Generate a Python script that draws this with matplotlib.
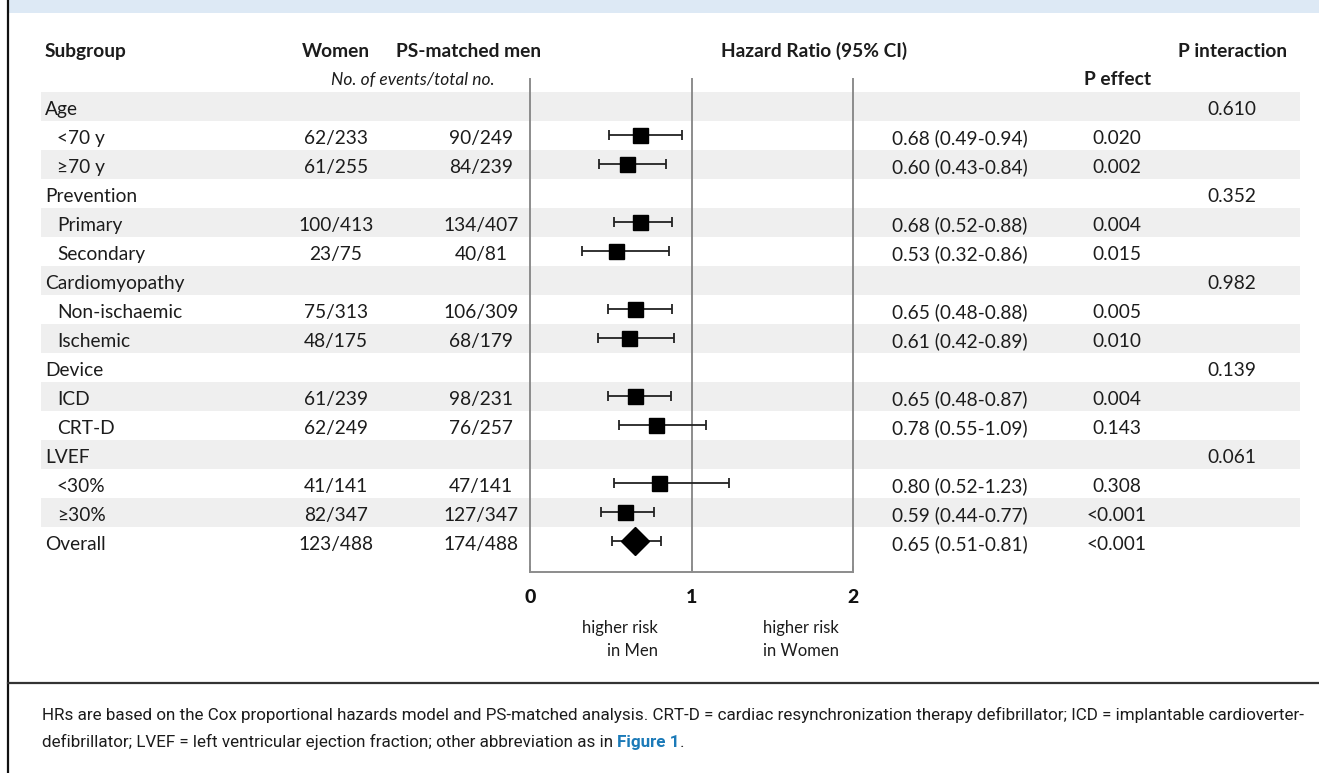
import numpy as np
import matplotlib
matplotlib.use("Agg")
import matplotlib.pyplot as plt
from matplotlib.patches import Rectangle

# canvas size in pixels (dpi 100)
W, H = 1319, 773

# table content
labels = ["Age", "<70 y", "≥70 y", "Prevention", "Primary", "Secondary",
          "Cardiomyopathy", "Non-ischaemic", "Ischemic", "Device", "ICD", "CRT-D",
          "LVEF", "<30%", "≥30%", "Overall"]
indented = [0, 1, 1, 0, 1, 1, 0, 1, 1, 0, 1, 1, 0, 1, 1, 0]
women = ["", "62/233", "61/255", "", "100/413", "23/75", "", "75/313", "48/175",
         "", "61/239", "62/249", "", "41/141", "82/347", "123/488"]
men = ["", "90/249", "84/239", "", "134/407", "40/81", "", "106/309", "68/179",
       "", "98/231", "76/257", "", "47/141", "127/347", "174/488"]
hr = [np.nan, 0.68, 0.60, np.nan, 0.68, 0.53, np.nan, 0.65, 0.61,
      np.nan, 0.65, 0.78, np.nan, 0.80, 0.59, 0.65]
ci_lo = [np.nan, 0.49, 0.43, np.nan, 0.52, 0.32, np.nan, 0.48, 0.42,
         np.nan, 0.48, 0.55, np.nan, 0.52, 0.44, 0.51]
ci_hi = [np.nan, 0.94, 0.84, np.nan, 0.88, 0.86, np.nan, 0.88, 0.89,
         np.nan, 0.87, 1.09, np.nan, 1.23, 0.77, 0.81]
p_effect = ["", "0.020", "0.002", "", "0.004", "0.015", "", "0.005", "0.010",
            "", "0.004", "0.143", "", "0.308", "<0.001", "<0.001"]
p_interaction = ["0.610", "", "", "0.352", "", "", "0.982", "", "",
                 "0.139", "", "", "0.061", "", "", ""]

hr = np.array(hr)
ci_lo = np.array(ci_lo)
ci_hi = np.array(ci_hi)
n_rows = len(labels)
rows = np.arange(n_rows)

TXT = "#1c1c1c"
GRID = "#8c8c8c"
BAND = "#efefef"
FONT = "Lato"
FS = 13.8

fig = plt.figure(figsize=(W / 100, H / 100), dpi=100)
ax = fig.add_axes([0, 0, 1, 1])
ax.set_xlim(0, W)
ax.set_ylim(H, 0)
ax.axis("off")

# frame: blue title band, left rule, rule above the footnote
ax.add_patch(Rectangle((9, 0), W - 9, 13, color="#dde9f5", lw=0))
ax.plot([8, 8], [0, H], color="#111111", lw=1.6)
ax.plot([8, W], [683, 683], color="#333333", lw=1.6)

# row geometry
row0, row_h = 106.5, 29.0
row_y = row0 + row_h * rows
base = row_y + 8.5

# shaded bands on every other row
ax.barh(row_y[::2], 1300 - 41, left=41, height=row_h, color=BAND, lw=0)

# headers
hkw = dict(fontsize=FS, family=FONT, fontweight="bold", color=TXT, va="baseline")
ax.text(45, 57, "Subgroup", ha="left", **hkw)
ax.text(336, 57, "Women", ha="center", **hkw)
ax.text(469, 57, "PS-matched men", ha="center", **hkw)
ax.text(814, 57, "Hazard Ratio (95% CI)", ha="center", **hkw)
ax.text(1233, 57, "P interaction", ha="center", **hkw)
ax.text(1118, 85, "P effect", ha="center", **hkw)
ax.text(413, 85, "No. of events/total no.", ha="center", fontsize=FS - 1.3,
        family=FONT, style="italic", color=TXT, va="baseline")

# body text
tkw = dict(fontsize=FS, family=FONT, color=TXT, va="baseline")
for i in rows:
    ax.text(57 if indented[i] else 45, base[i], labels[i], ha="left", **tkw)
    ax.text(336, base[i], women[i], ha="center", **tkw)
    ax.text(481, base[i], men[i], ha="center", **tkw)
    if not np.isnan(hr[i]):
        ax.text(892, base[i], f"{hr[i]:.2f} ({ci_lo[i]:.2f}-{ci_hi[i]:.2f})",
                ha="left", **tkw)
    ax.text(1117, base[i], p_effect[i], ha="center", **tkw)
    ax.text(1232, base[i], p_interaction[i], ha="center", **tkw)

# forest panel: HR 0 at x=530 px, 2 at x=853 px, from y=79 px down to the axis at 572 px
top_px, bot_px = 79, 572
fa = fig.add_axes([530 / W, 1 - bot_px / H, (853 - 530) / W, (bot_px - top_px) / H])
fa.patch.set_alpha(0)
fa.set_xlim(0, 2)
fa.set_ylim((bot_px - row0) / row_h, (top_px - row0) / row_h)
for v in (0, 1, 2):
    fa.axvline(v, color=GRID, lw=1.4, clip_on=False, zorder=1)

sub = ~np.isnan(hr)
sub[-1] = False
fa.errorbar(hr[sub], rows[sub], xerr=[hr[sub] - ci_lo[sub], ci_hi[sub] - hr[sub]],
            fmt="s", ms=10.8, color="black", ecolor="#222222", elinewidth=1.3,
            capsize=3.6, capthick=1.3, zorder=3)
fa.errorbar(hr[-1:], rows[-1:], xerr=[hr[-1:] - ci_lo[-1:], ci_hi[-1:] - hr[-1:]],
            fmt="D", ms=14, color="black", ecolor="#222222", elinewidth=1.3,
            capsize=3.6, capthick=1.3, zorder=3)

for s in ("top", "left", "right"):
    fa.spines[s].set_visible(False)
fa.spines["bottom"].set_color(GRID)
fa.spines["bottom"].set_linewidth(1.4)
fa.set_yticks([])
fa.set_xticks([0, 1, 2])
fa.set_xticklabels(["0", "1", "2"], fontsize=14, family=FONT, fontweight="black", color="#111111")
fa.tick_params(axis="x", direction="in", length=4, width=1.4, color=GRID, pad=12)

# direction labels
lkw = dict(fontsize=12, family=FONT, color=TXT, va="baseline")
ax.text(658, 633, "higher risk", ha="right", **lkw)
ax.text(658, 656, "in Men", ha="right", **lkw)
ax.text(763, 633, "higher risk", ha="left", **lkw)
ax.text(763, 656, "in Women", ha="left", **lkw)

# footnote
FFS = 12.25
fkw = dict(fontsize=FFS, family="Roboto", color=TXT, va="baseline")
ax.text(42, 720, "HRs are based on the Cox proportional hazards model and PS-matched analysis. "
        "CRT-D = cardiac resynchronization therapy defibrillator; ICD = implantable cardioverter-",
        ha="left", **fkw)
renderer = fig.canvas.get_renderer()
t1 = ax.text(42, 747, "defibrillator; LVEF = left ventricular ejection fraction; "
             "other abbreviation as in ", ha="left", **fkw)
x1 = t1.get_window_extent(renderer).x1
t2 = ax.text(x1, 747, "Figure 1", ha="left", fontsize=FFS, family="Roboto",
             fontweight="bold", color="#1b7ab8", va="baseline")
x2 = t2.get_window_extent(renderer).x1
ax.text(x2, 747, ".", ha="left", **fkw)

fig.savefig("out.png", dpi=100)
